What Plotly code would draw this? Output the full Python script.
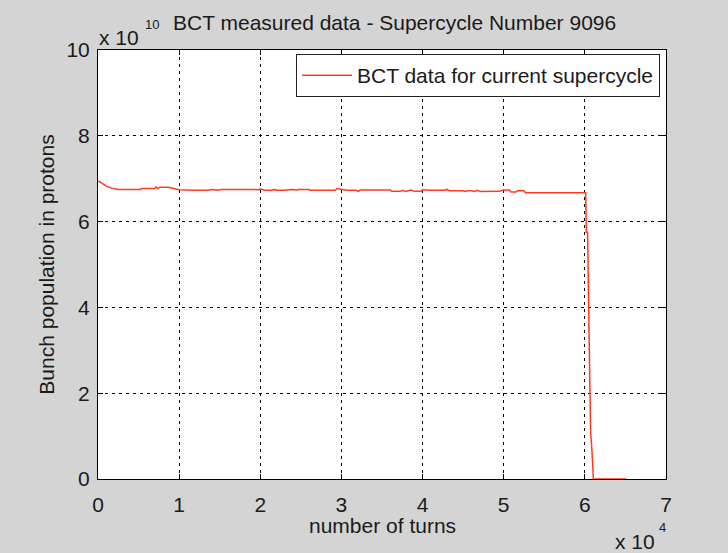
import plotly.graph_objects as go

# BCT intensity samples: turn number and bunch population (protons)
turns = [0, 450, 1100, 1700, 2500, 5200, 5400, 7000, 7150, 7350, 7600, 8650,
         9100, 9500, 10000, 11900, 13600, 14000, 14800, 15200, 16900, 17100,
         17800, 19900, 20000, 20300, 20500, 21300, 21800, 22000, 23000, 24000,
         24500, 24700, 26000, 26100, 29200, 29500, 30000, 30600, 31800, 32100,
         32300, 36000, 36200, 37300, 37500, 37900, 38600, 39000, 39800, 40000,
         40800, 42700, 43000, 43300, 45000, 45200, 45500, 46000, 46400, 46800,
         47100, 48500, 48700, 49500, 49900, 50700, 50900, 51500, 51700, 52500,
         52700, 60100, 60180, 60340, 60470, 60590, 60710, 60880, 61050, 65100]
protons = [6.95e10, 6.90e10, 6.82e10, 6.78e10, 6.75e10, 6.75e10, 6.77e10,
           6.77e10, 6.81e10, 6.77e10, 6.80e10, 6.80e10, 6.78e10, 6.76e10,
           6.745e10, 6.73e10, 6.73e10, 6.75e10, 6.73e10, 6.75e10, 6.75e10,
           6.735e10, 6.745e10, 6.745e10, 6.765e10, 6.75e10, 6.73e10, 6.73e10,
           6.745e10, 6.73e10, 6.73e10, 6.75e10, 6.73e10, 6.75e10, 6.75e10,
           6.73e10, 6.73e10, 6.77e10, 6.75e10, 6.73e10, 6.73e10, 6.705e10,
           6.735e10, 6.735e10, 6.705e10, 6.705e10, 6.73e10, 6.705e10,
           6.735e10, 6.705e10, 6.705e10, 6.74e10, 6.73e10, 6.73e10, 6.75e10,
           6.72e10, 6.72e10, 6.705e10, 6.72e10, 6.72e10, 6.70e10, 6.73e10,
           6.70e10, 6.70e10, 6.705e10, 6.705e10, 6.735e10, 6.735e10, 6.69e10,
           6.69e10, 6.72e10, 6.72e10, 6.675e10, 6.67e10, 5.75e10, 5.75e10,
           3.98e10, 2.22e10, 1.10e10, 0.64e10, 0.0, 0.0]

# axis scale factors (shown as "x 10^n" labels)
x_exp = 4
y_exp = 10
x_ticks = [0, 1, 2, 3, 4, 5, 6, 7]
y_ticks = [0, 2, 4, 6, 8, 10]

title_text = "BCT measured data - Supercycle Number 9096"
legend_name = "BCT data for current supercycle"
x_label = "number of turns"
y_label = "Bunch population in protons"

FONT = "Liberation Sans, Arial, Helvetica, sans-serif"
TXT = "#1a1a1a"
BG = "#d4d4d4"
SZ = 21

fig = go.Figure()
fig.add_trace(go.Scatter(
    x=[t / 10 ** x_exp for t in turns],
    y=[p / 10 ** y_exp for p in protons],
    mode="lines",
    line=dict(color="#ff3a1e", width=1.5),
    name=legend_name,
))

axis_common = dict(
    showline=True, linecolor="black", linewidth=1, mirror="ticks",
    ticks="inside", ticklen=5, tickcolor="black", tickwidth=1,
    showgrid=True, gridcolor="black", gridwidth=1, griddash="3px,4px",
    zeroline=False, tickfont=dict(family=FONT, size=SZ, color=TXT),
)

fig.update_xaxes(range=[0, 7], tickvals=x_ticks, ticktext=[str(v) for v in x_ticks],
                 ticklabelstandoff=7, **axis_common)
fig.update_yaxes(range=[0, 10], tickvals=y_ticks, ticktext=[str(v) for v in y_ticks],
                 title=dict(text=y_label, font=dict(family=FONT, size=SZ, color=TXT), standoff=6),
                 ticklabelstandoff=3, **axis_common)


def note(text, x, y, xanchor, yanchor, xshift, yshift, size):
    return dict(text=text, xref="paper", yref="paper", x=x, y=y,
                xanchor=xanchor, yanchor=yanchor, xshift=xshift, yshift=yshift,
                showarrow=False, font=dict(family=FONT, size=size, color=TXT))


fig.update_layout(
    width=728, height=553,
    margin=dict(l=98, r=62, t=50, b=74),
    paper_bgcolor=BG, plot_bgcolor="white",
    font=dict(family=FONT, size=SZ, color=TXT),
    showlegend=True,
    legend=dict(x=0.9894, y=0.9907, xanchor="right", yanchor="top",
                bgcolor="white", bordercolor="#222222", borderwidth=1,
                itemwidth=50, font=dict(family=FONT, size=SZ, color=TXT)),
    annotations=[
        note(title_text, 0.522, 1.0, "center", "bottom", 0, 14, SZ),
        # x-axis title just under the tick labels
        note(x_label, 0.5, 0.0, "center", "middle", 0, -46, SZ),
        # y-axis multiplier: "x 10" with raised exponent
        note("x 10", 0.0, 1.0, "left", "bottom", -1, -1, SZ),
        note(str(y_exp), 0.0, 1.0, "left", "bottom", 45, 16, 13),
        # x-axis multiplier below the right end
        note("x 10", 1.0, 0.0, "right", "top", -9, -49, SZ),
        note(str(x_exp), 1.0, 0.0, "left", "top", -9, -39, 13),
    ],
)

fig.write_html("out.html")
